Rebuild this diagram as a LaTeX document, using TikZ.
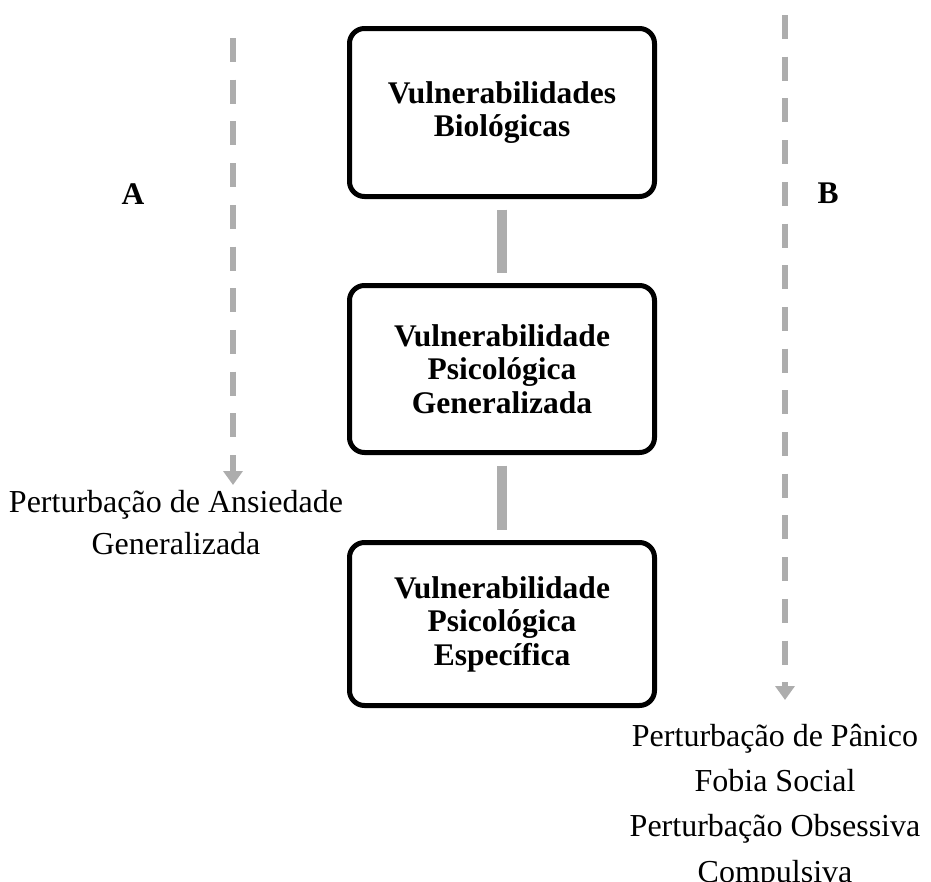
\documentclass[tikz,border=0pt]{standalone}
\usepackage{fontspec}
\setmainfont{Liberation Serif}
\usetikzlibrary{arrows.meta}
\definecolor{lgray}{RGB}{173,173,173}
\begin{document}
\begin{tikzpicture}[x=1pt,y=-1pt,
  vbox/.style={draw=black, line width=5pt, rounded corners=15pt, minimum width=305pt,
    align=center, font=\fontsize{31.5}{33.5}\selectfont\bfseries, inner sep=0pt},
  link/.style={draw=lgray, line width=10pt, shorten <=10.5pt, shorten >=10.5pt},
  darrow/.style={draw=lgray, line width=6.5pt, dash pattern=on 24pt off 17.7pt,
    -{Triangle[width=19pt,length=14pt]}},
  lbl/.style={font=\fontsize{32}{42}\selectfont, align=center, inner sep=0pt},
  letter/.style={font=\fontsize{31.5}{33}\selectfont\bfseries, inner sep=0pt, anchor=base}]
\useasboundingbox (0,0) rectangle (931,881);
\node[vbox, minimum height=168pt] (b1) at (502,112.5) {Vulnerabilidades\\Biológicas};
\node[vbox, minimum height=167pt] (b2) at (502,369) {Vulnerabilidade\\Psicológica\\Generalizada};
\node[vbox, minimum height=163pt] (b3) at (502,624) {Vulnerabilidade\\Psicológica\\Específica};
\path[link] (b1.south) -- (b2.north);
\path[link] (b2.south) -- (b3.north);
\coordinate (a0) at (233,38);
\coordinate (a1) at (233,485);
\coordinate (c0) at (785,15);
\coordinate (c1) at (785,700);
\draw[darrow] (a0) -- (a1);
\draw[darrow] (c0) -- (c1);
\node[letter] (la) at (133,204) {A};
\node[letter] (lb) at (828,203) {B};
\node[lbl, anchor=base] (gad) at (176,554) {Perturbação de Ansiedade\\Generalizada};
\node[lbl, anchor=base, font=\fontsize{32}{45.3}\selectfont] (pan) at (775,882) {Perturbação de Pânico\\Fobia Social\\Perturbação Obsessiva\\Compulsiva};
\end{tikzpicture}
\end{document}
